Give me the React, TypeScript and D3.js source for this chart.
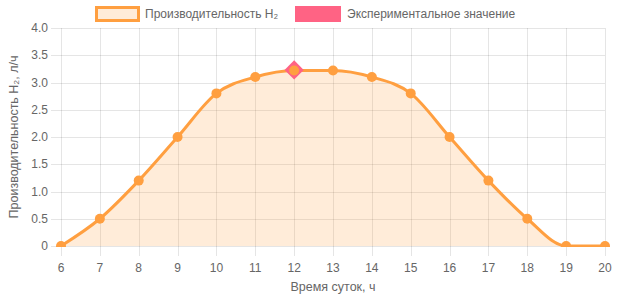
import React from 'react';
import * as d3 from 'd3';

const hours = [6, 7, 8, 9, 10, 11, 12, 13, 14, 15, 16, 17, 18, 19, 20];
const productivity = [0, 0.5, 1.2, 2.0, 2.8, 3.1, 3.22, 3.22, 3.1, 2.8, 2.0, 1.2, 0.5, 0, 0];
const experimentalHour = [12];
const experimentalValue = [3.23];
const yTicks = [0, 0.5, 1.0, 1.5, 2.0, 2.5, 3.0, 3.5, 4.0];
const legendLabels = ['Производительность H₂', 'Экспериментальное значение'];
const xTitle = 'Время суток, ч';
const yTitle = 'Производительность H₂, л/ч';

const W = 624, H = 297;
const M = { left: 61, right: 605, top: 28, bottom: 246 };
const ORANGE = 'rgb(255,159,64)';
const FILL = 'rgba(255,159,64,0.2)';
const PINK = 'rgb(255,99,132)';
const FONT = "'Liberation Sans', Arial, Helvetica, sans-serif";
const GRID = 'rgba(0,0,0,0.1)';

export default function App() {
  const x = d3.scaleLinear().domain([6, 20]).range([M.left, M.right]);
  const y = d3.scaleLinear().domain([0, 4]).range([M.bottom, M.top]);
  const pts = hours.map((h, i) => [h, productivity[i]] as [number, number]);
  const line = d3.line<[number, number]>().x(d => x(d[0])).y(d => y(d[1])).curve(d3.curveMonotoneX);
  const area = d3.area<[number, number]>().x(d => x(d[0])).y0(y(0)).y1(d => y(d[1])).curve(d3.curveMonotoneX);
  const fmt = (v: number) => (v === 0 ? '0' : v.toFixed(1));

  return (
    <svg width={W} height={H} style={{ position: 'absolute', left: 0, top: 0 }} fontFamily={FONT}>
      <defs>
        <clipPath id="plotClip">
          <rect x={M.left - 10} y={M.top - 10} width={M.right - M.left + 20} height={M.bottom - M.top + 11} />
        </clipPath>
      </defs>
      <rect width={W} height={H} fill="#fff" />
      {/* grid */}
      {yTicks.map(t => (
        <line key={'gy' + t} x1={M.left - 10} x2={M.right} y1={Math.round(y(t)) + 0.5} y2={Math.round(y(t)) + 0.5} stroke={GRID} />
      ))}
      {hours.map(h => (
        <line key={'gx' + h} x1={Math.round(x(h)) + 0.5} x2={Math.round(x(h)) + 0.5} y1={M.top} y2={M.bottom + 10} stroke={GRID} />
      ))}
      {/* tick labels */}
      {yTicks.map(t => (
        <text key={'ty' + t} x={M.left - 13} y={y(t)} dy="0.35em" textAnchor="end" fontSize={12} fill="#666">{fmt(t)}</text>
      ))}
      {hours.map(h => (
        <text key={'tx' + h} x={x(h)} y={268} dy="0.35em" textAnchor="middle" fontSize={12} fill="#666">{h}</text>
      ))}
      <g clipPath="url(#plotClip)">
        <path d={area(pts) || ''} fill={FILL} />
        <path d={line(pts) || ''} fill="none" stroke={ORANGE} strokeWidth={3} />
      </g>
      {/* experimental diamond */}
      {experimentalHour.map((h, i) => (
        <rect key={'e' + i} x={-6.8} y={-6.8} width={13.6} height={13.6} fill={PINK}
          transform={`translate(${x(h)},${y(experimentalValue[i])}) rotate(45)`} />
      ))}
      <g clipPath="url(#plotClip)">
        {pts.map((p, i) => (
          <circle key={'p' + i} cx={x(p[0])} cy={y(p[1])} r={5} fill={ORANGE} />
        ))}
      </g>
      {/* legend */}
      <rect x={96.5} y={7.5} width={42} height={13} fill={FILL} stroke={ORANGE} strokeWidth={3} />
      <text x={145} y={14} dy="0.35em" fontSize={12} fill="#666">{legendLabels[0]}</text>
      <rect x={295} y={6} width={46} height={16} fill={PINK} />
      <text x={347} y={14} dy="0.35em" fontSize={12} fill="#666">{legendLabels[1]}</text>
      {/* titles */}
      <text x={(M.left + M.right) / 2} y={287} dy="0.35em" textAnchor="middle" fontSize={12.5} fill="#666">{xTitle}</text>
      <text transform={`translate(14,${(M.top + M.bottom) / 2}) rotate(-90)`} dy="0.35em" textAnchor="middle" fontSize={12.5} fill="#666">{yTitle}</text>
    </svg>
  );
}
